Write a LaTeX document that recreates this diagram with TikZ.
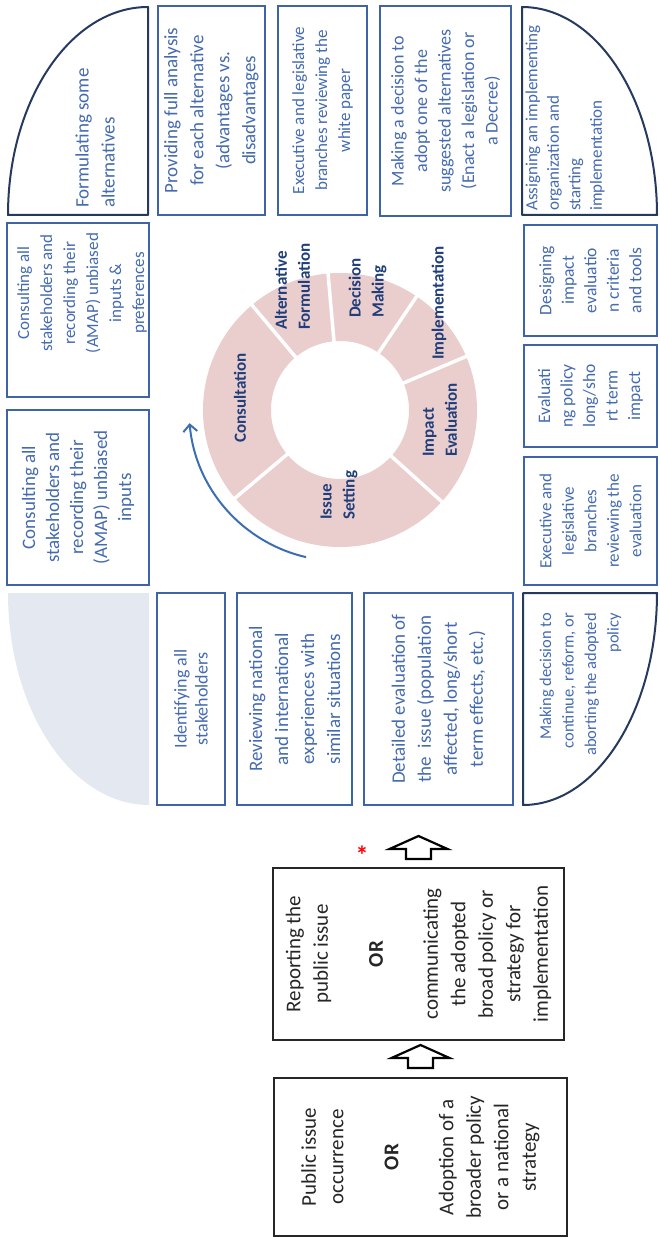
\documentclass[tikz,border=0pt]{standalone}
\usepackage{fontspec}
\setmainfont{Carlito}
\usetikzlibrary{arrows.meta}
\definecolor{boxblue}{RGB}{62,100,165}
\definecolor{txtblue}{RGB}{68,106,176}
\definecolor{navy}{RGB}{38,58,95}
\definecolor{ringpink}{RGB}{234,206,206}
\definecolor{ringtxt}{RGB}{32,62,122}
\definecolor{greyfill}{RGB}{228,233,241}
\definecolor{arcblue}{RGB}{60,110,180}
\newcommand\fsz[2]{\fontsize{#1pt}{#2pt}\selectfont}

\begin{document}
\begin{tikzpicture}[x=1pt,y=-1pt,
  stepbox/.style={rotate=90, draw=boxblue, line width=2pt, inner sep=0pt, align=center, text=txtblue},
  plain/.style={rotate=90, inner sep=0pt, text=txtblue},
  quarter/.style={draw=navy, line width=2pt, line join=round},
  ring/.style={rotate=90, inner sep=0pt, text=ringtxt, font=\fsz{17}{23}\bfseries, align=left},
  mainbox/.style={rotate=90, draw=black!85, line width=2pt, inner sep=0pt, align=center, text=black!85, font=\fsz{21}{27.5}},
  blockarrow/.style={draw=black, line width=2.2pt, fill=white, line join=miter},
]
\useasboundingbox (0,0) rectangle (660,1238);

% rounded corner pieces of the frame
\draw[quarter] (148,7) -- (148,215) -- (8,215) .. controls (8,100.1) and (70.7,7) .. (148,7) -- cycle;
\draw[quarter] (522,7) -- (522,215) -- (657,215) .. controls (657,100.1) and (596.6,7) .. (522,7) -- cycle;
\draw[quarter] (523,805) -- (523,593) -- (657,593) .. controls (657,710.1) and (597,805) .. (523,805) -- cycle;
\fill[greyfill] (8,593) -- (149,593) -- (149,805) .. controls (71.1,805) and (8,710.1) .. (8,593) -- cycle;

\node[plain, font=\fsz{19}{26}, align=left, anchor=west] (formulate) at (95,208) {Formulating some\\alternatives};
\node[plain, font=\fsz{17}{21.5}, align=left, anchor=west] (assign) at (565,211) {Assigning an implementing\\organization and\\starting\\implementation};
\node[plain, font=\fsz{16.5}{22.5}, align=right, anchor=east] (continue) at (580.5,613) {Making decision to\\continue, reform, or\\aborting the adopted\\policy};

% top row
\node[stepbox, minimum width=209pt, minimum height=107pt, font=\fsz{19}{26}] (analysis) at (211.5,110.5) {Providing full analysis\\for each alternative\\(advantages vs.\\disadvantages};
\node[stepbox, minimum width=209pt, minimum height=89pt, font=\fsz{17}{23}] (whitepaper) at (322.5,110.5) {Executive and legislative\\branches reviewing the\\white paper};
\node[stepbox, minimum width=210pt, minimum height=131pt, font=\fsz{18}{23.5}] (decide) at (445.5,111) {Making a decision to\\adopt one of the\\suggested alternatives\\(Enact a legislation or\\a Decree)};

% right column
\node[stepbox, minimum width=111pt, minimum height=133pt, font=\fsz{17.5}{22.5}] (design) at (590.5,280.5) {Designing\\impact\\evaluatio\\n criteria\\and tools};
\node[stepbox, minimum width=102pt, minimum height=133pt, font=\fsz{17.5}{22.5}] (evalimpact) at (590.5,396) {Evaluati\\ng policy\\long/sho\\rt term\\impact};
\node[stepbox, minimum width=128pt, minimum height=133pt, font=\fsz{17}{22.5}] (reviewevel) at (590.5,521) {Executive and\\legislative\\branches\\reviewing the\\evaluation};

% bottom row
\node[stepbox, minimum width=212pt, minimum height=68pt, font=\fsz{18}{21}] (identify) at (191,699) {Identifying all\\stakeholders};
\node[stepbox, minimum width=212pt, minimum height=115pt, font=\fsz{19}{26}] (experience) at (294.5,699) {Reviewing national\\and international\\experiences with\\similar situations};
\node[stepbox, minimum width=212pt, minimum height=149pt, font=\fsz{19}{26}] (detail) at (438.5,699) {Detailed evaluation of\\the~ issue (population\\affected, long/short\\term effects, etc.)};

% left column
\node[stepbox, minimum width=174pt, minimum height=142pt] (consultone) at (78,310) {};
\node[plain, align=center, font=\fsz{17}{23}] (consultonetext) at (82,293) {Consulting all\\stakeholders and\\recording their\\(AMAP) unbiased\\inputs \&\\preferences};
\node[stepbox, minimum width=175pt, minimum height=142pt, font=\fsz{19}{24}] (consulttwo) at (78,497.5) {Consulting all\\stakeholders and\\recording their\\(AMAP) unbiased\\inputs};

% policy cycle ring
\begin{scope}[shift={(340,410)}, yscale=-1]
  \fill[ringpink, even odd rule] (0,0) circle[radius=137] (0,0) circle[radius=69];
  \foreach \a in {23,56,95,130,220,318}
    \draw[white, line width=3.5pt] (\a:65) -- (\a:141);
  \draw[arcblue, line width=2pt, -{Straight Barb[length=7pt,width=14pt]}]
    (257:151) arc[start angle=257, end angle=185, radius=151];
\end{scope}

\node[ring, anchor=center] (consultation) at (240,398) {Consultation};
\node[ring, anchor=west] (altform) at (292.5,330) {Alternative\\Formulation};
\node[ring, anchor=west] (decision) at (367.5,318) {Decision\\Making};
\node[ring, anchor=west] (implement) at (439,360) {Implementation};
\node[ring, anchor=west] (impact) at (440,457) {Impact\\Evaluation};
\node[ring, anchor=west] (issue) at (339,520) {Issue\\Setting};

% entry boxes
\node[mainbox, minimum width=172pt, minimum height=291pt] (report) at (418.5,954) {Reporting the\\public issue\\[27.5pt]\textbf{OR}\\[27.5pt]communicating\\the adopted\\broad policy or\\strategy for\\implementation};
\node[mainbox, minimum width=158pt, minimum height=293pt] (occur) at (420.5,1157) {Public issue\\occurrence\\[27.5pt]\textbf{OR}\\[27.5pt]Adoption of a\\broader policy\\or a national\\strategy};

% block arrows
\draw[blockarrow] (report.east) ++(-12.5,-8) -- ++(0,-10) -- ++(-16.5,0) -- ++(29,-13) -- ++(29,13) -- ++(-16.5,0) -- ++(0,10) -- cycle;
\draw[blockarrow] (occur.east) ++(-12.5,-9) -- ++(0,-10) -- ++(-16.5,0) -- ++(29,-13) -- ++(29,13) -- ++(-16.5,0) -- ++(0,10) -- cycle;
\node[text=red, font=\fsz{26}{26}\bfseries, inner sep=0pt] (mark) at (362,855) {*};

\end{tikzpicture}
\end{document}
